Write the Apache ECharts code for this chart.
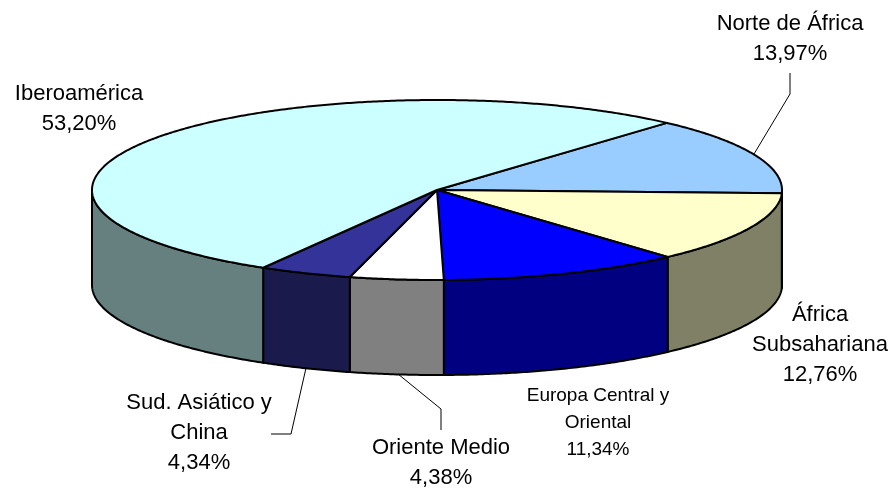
<!DOCTYPE html>
<html>
<head>
<meta charset="utf-8">
<style>html,body{margin:0;padding:0;background:#fff}#c{width:895px;height:490px}</style>
<script src="https://cdn.jsdelivr.net/npm/echarts@6/dist/echarts.min.js"></script>
</head>
<body>
<div id="c"></div>
<script>
// Data, clockwise from the first slice
const categories = ['Norte de África', 'África Subsahariana', 'Europa Central y Oriental', 'Oriente Medio', 'Sud. Asiático y China', 'Iberoamérica'];
const values = [13.97, 12.76, 11.34, 4.38, 4.34, 53.20];
const topColors = ['#99CCFF', '#FFFFCC', '#0000FF', '#FFFFFF', '#333399', '#CCFFFF'];
const wallColors = ['#4D6680', '#808066', '#000080', '#808080', '#1A1A4D', '#668080'];
const labelLines = [['Norte de África'], ['África', 'Subsahariana'], ['Europa Central y', 'Oriental'], ['Oriente Medio'], ['Sud. Asiático y', 'China'], ['Iberoamérica']];

const CX = 437, CY = 190, RX = 345, RY = 90, DEPTH = 95, START = 48.2;
const labelPos = [[790, 24], [820, 315], [598, 396], [441, 448], [199, 403], [79, 94]];
const labelFont = [22, 22, 19, 22, 22, 22];
const leaders = [
  [[790, 73], [790, 94], [754, 154]],
  null, null,
  [[441, 430], [441, 409], [398, 374]],
  [[271, 434], [291, 434], [306, 368]],
  null
];

const total = values.reduce((a, b) => a + b, 0);
let cum = START;
const rows = values.map((v, i) => {
  const a0 = cum, a1 = cum - v / total * 360;
  cum = a1;
  return [v, a0, a1, i];
});
const pt = (deg, dy) => [CX + RX * Math.cos(deg * Math.PI / 180), CY - RY * Math.sin(deg * Math.PI / 180) + (dy || 0)];
const arc = (a0, a1, dy) => {
  const n = Math.max(2, Math.ceil(Math.abs(a1 - a0) * 2)), p = [];
  for (let k = 0; k <= n; k++) p.push(pt(a0 + (a1 - a0) * k / n, dy));
  return p;
};

const stroke = { stroke: '#000', lineWidth: 2, lineJoin: 'round' };

function renderSlice(params, api) {
  const i = api.value(3), a0 = api.value(1), a1 = api.value(2);
  const children = [];
  // Side wall: only the part of the slice's rim on the near half of the ellipse
  const hi = Math.min(a0, 0), lo = Math.max(a1, -180);
  if (hi > lo) {
    const pts = arc(hi, lo, 0).concat(arc(lo, hi, DEPTH));
    children.push({ type: 'polygon', shape: { points: pts }, style: Object.assign({ fill: wallColors[i] }, stroke) });
  }
  const topPts = [[CX, CY]].concat(arc(a0, a1, 0));
  children.push({ type: 'polygon', z2: 5, shape: { points: topPts }, style: Object.assign({ fill: topColors[i] }, stroke) });
  return { type: 'group', children };
}

function renderLabel(params, api) {
  const i = api.value(3);
  const lh = labelFont[i] === 19 ? 27 : 30;
  const lines = labelLines[i].concat([values[i].toFixed(2).replace('.', ',') + '%']);
  const children = lines.map((t, k) => ({
    type: 'text',
    x: labelPos[i][0], y: labelPos[i][1] + k * lh,
    style: { text: t, fill: '#000', font: labelFont[i] + 'px "Liberation Sans", Arial, sans-serif', align: 'center', verticalAlign: 'middle' }
  }));
  if (leaders[i]) children.push({ type: 'polyline', shape: { points: leaders[i] }, style: { stroke: '#000', lineWidth: 1, fill: null } });
  return { type: 'group', children };
}

const chart = echarts.init(document.getElementById('c'), null, { renderer: 'canvas' });
chart.setOption({
  animation: false,
  backgroundColor: '#fff',
  series: [
    { type: 'custom', coordinateSystem: 'none', silent: true, renderItem: renderSlice, data: rows, z: 2 },
    { type: 'custom', coordinateSystem: 'none', silent: true, renderItem: renderLabel, data: rows, z: 3 }
  ]
});
</script>
</body>
</html>
